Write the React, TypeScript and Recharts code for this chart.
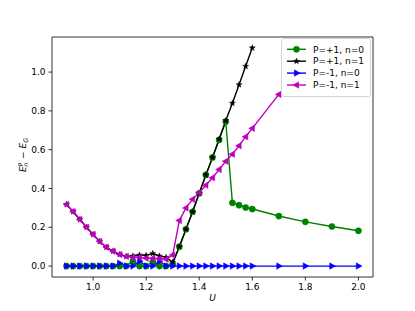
import React from "react";
import { LineChart, Line, XAxis, YAxis, ReferenceArea } from "recharts";

const U_LOW = [0.9, 0.925, 0.95, 0.975, 1.0, 1.025, 1.05, 1.075, 1.1, 1.125, 1.15, 1.175, 1.2, 1.225, 1.25, 1.275, 1.3, 1.325, 1.35, 1.375, 1.4, 1.425, 1.45, 1.475, 1.5, 1.525, 1.55, 1.575, 1.6];
const U_HIGH = [1.7, 1.8, 1.9, 2.0];

const GREEN_VALS = [0, 0, 0, 0, 0, 0, 0, 0, 0, 0, 0.025, 0, 0, 0.022, 0, 0, 0.01, 0.1, 0.19, 0.28, 0.375, 0.47, 0.56, 0.65, 0.745, 0.326, 0.314, 0.302, 0.294, 0.258, 0.228, 0.204, 0.182];
const BLACK_VALS = [0.318, 0.28, 0.24, 0.2, 0.163, 0.127, 0.097, 0.077, 0.06, 0.05, 0.052, 0.057, 0.055, 0.065, 0.052, 0.045, 0.02, 0.1, 0.19, 0.28, 0.375, 0.47, 0.56, 0.655, 0.75, 0.84, 0.935, 1.03, 1.125];
const BLUE_VALS = [0, 0, 0, 0, 0, 0, 0, 0, 0.015, 0, 0, 0.025, 0, 0, 0.025, 0, 0, 0, 0, 0, 0, 0, 0, 0, 0, 0, 0, 0, 0, 0, 0, 0, 0];
const MAGENTA_VALS = [0.318, 0.28, 0.24, 0.2, 0.163, 0.127, 0.097, 0.077, 0.06, 0.05, 0.045, 0.045, 0.04, 0.04, 0.038, 0.035, 0.057, 0.235, 0.3, 0.344, 0.378, 0.417, 0.455, 0.498, 0.54, 0.577, 0.62, 0.667, 0.71, 0.885];

const X_TICKS = [1.0, 1.2, 1.4, 1.6, 1.8, 2.0];
const Y_TICKS = [0.0, 0.2, 0.4, 0.6, 0.8, 1.0];
const SERIES_NAMES = ["P=+1, n=0", "P=+1, n=1", "P=-1, n=0", "P=-1, n=1"];

const ALL_U = [...U_LOW, ...U_HIGH];
const toPts = (xs: number[], ys: number[]) => ys.map((y, i) => ({ x: xs[i], y }));

const greenData = toPts(ALL_U, GREEN_VALS);
const blackData = toPts(U_LOW, BLACK_VALS);
const blueData = toPts(ALL_U, BLUE_VALS);
const magentaData = toPts(ALL_U, MAGENTA_VALS);

const GREEN = "#008000";
const BLACK = "#000000";
const BLUE = "#0000ff";
const MAGENTA = "#bf00bf";

const FONT = "DejaVu Sans, sans-serif";
const X_DOMAIN: [number, number] = [0.845, 2.055];
const Y_DOMAIN: [number, number] = [-0.0563, 1.181];

function starPoints(cx: number, cy: number, R: number, r: number) {
  const pts: string[] = [];
  for (let i = 0; i < 10; i++) {
    const rad = i % 2 === 0 ? R : r;
    const a = -Math.PI / 2 + (i * Math.PI) / 5;
    pts.push(`${cx + rad * Math.cos(a)},${cy + rad * Math.sin(a)}`);
  }
  return pts.join(" ");
}

function Marker({ kind, cx, cy, color }: { kind: string; cx: number; cy: number; color: string }) {
  if (kind === "circle") return <circle cx={cx} cy={cy} r={3.1} fill={color} stroke={color} strokeWidth={0.5} />;
  if (kind === "star") return <polygon points={starPoints(cx, cy, 3.2, 1.3)} fill={color} stroke={color} strokeWidth={0.4} />;
  const r = 3.6;
  if (kind === "right")
    return <polygon points={`${cx + r},${cy} ${cx - r * 0.6},${cy - r * 0.9} ${cx - r * 0.6},${cy + r * 0.9}`} fill={color} stroke={color} strokeWidth={0.5} />;
  return <polygon points={`${cx - r},${cy} ${cx + r * 0.6},${cy - r * 0.9} ${cx + r * 0.6},${cy + r * 0.9}`} fill={color} stroke={color} strokeWidth={0.5} />;
}

const makeDot = (kind: string, color: string, prefix: string) => (p: any) => {
  if (p.cx == null || p.cy == null) return <g key={`${prefix}-${p.index}`} />;
  return (
    <g key={`${prefix}-${p.index}`}>
      <Marker kind={kind} cx={p.cx} cy={p.cy} color={color} />
    </g>
  );
};

const LEGEND_ITEMS = [
  { name: SERIES_NAMES[0], kind: "circle", color: GREEN },
  { name: SERIES_NAMES[1], kind: "star", color: BLACK },
  { name: SERIES_NAMES[2], kind: "right", color: BLUE },
  { name: SERIES_NAMES[3], kind: "left", color: MAGENTA },
];

export default function App() {
  return (
    <div style={{ position: "absolute", left: 0, top: 0, width: 415, height: 311, background: "#fff" }}>
      <LineChart width={415} height={311} margin={{ top: 37, right: 42, bottom: 4, left: 12 }}>
        <XAxis
          type="number"
          dataKey="x"
          domain={X_DOMAIN}
          ticks={X_TICKS}
          allowDataOverflow
          height={30}
          tickFormatter={(v: number) => v.toFixed(1)}
          tick={{ fill: "#000", fontSize: 9, fontFamily: FONT }}
          tickSize={3.5}
          tickMargin={3}
          axisLine={false}
          tickLine={{ stroke: "#000", strokeWidth: 0.8 }}
        />
        <YAxis
          type="number"
          dataKey="y"
          domain={Y_DOMAIN}
          ticks={Y_TICKS}
          allowDataOverflow
          width={40}
          tickFormatter={(v: number) => v.toFixed(1)}
          tick={{ fill: "#000", fontSize: 9, fontFamily: FONT }}
          tickSize={3.5}
          tickMargin={3}
          axisLine={false}
          tickLine={{ stroke: "#000", strokeWidth: 0.8 }}
        />
        <Line data={greenData} dataKey="y" stroke={GREEN} strokeWidth={1.4} isAnimationActive={false} dot={makeDot("circle", GREEN, "g")} activeDot={false} />
        <Line data={blackData} dataKey="y" stroke={BLACK} strokeWidth={1.4} isAnimationActive={false} dot={makeDot("star", BLACK, "k")} activeDot={false} />
        <Line data={blueData} dataKey="y" stroke={BLUE} strokeWidth={1.4} isAnimationActive={false} dot={makeDot("right", BLUE, "b")} activeDot={false} />
        <Line data={magentaData} dataKey="y" stroke={MAGENTA} strokeWidth={1.4} isAnimationActive={false} dot={makeDot("left", MAGENTA, "m")} activeDot={false} />
        <ReferenceArea x1={X_DOMAIN[0]} x2={X_DOMAIN[1]} y1={Y_DOMAIN[0]} y2={Y_DOMAIN[1]} fill="none" stroke="#000" strokeWidth={0.8} ifOverflow="visible" />
      </LineChart>
      <svg width={415} height={311} style={{ position: "absolute", left: 0, top: 0, pointerEvents: "none" }}>
        <text x={212.5} y={301} textAnchor="middle" fontFamily={FONT} fontSize={9} fontStyle="italic" fill="#000">U</text>
        <g transform="translate(26,155) rotate(-90)">
          <text x={0} y={0} textAnchor="middle" fontFamily={FONT} fontSize={9} fill="#000">
            <tspan fontStyle="italic">E</tspan>
            <tspan fontStyle="italic" fontSize={6.3} dy={-3.5}>P</tspan>
            <tspan fontStyle="italic" fontSize={6.3} dx={-4.2} dy={5.5}>n</tspan>
            <tspan dy={-2} dx={1}> − </tspan>
            <tspan fontStyle="italic">E</tspan>
            <tspan fontStyle="italic" fontSize={6.3} dy={2}>G</tspan>
          </text>
        </g>
        <rect x={281.5} y={38.5} width={89} height={58} rx={2} fill="#fff" fillOpacity={0.8} stroke="#cccccc" strokeWidth={0.8} />
        {LEGEND_ITEMS.map((it, i) => {
          const y = 49.3 + i * 11.9;
          return (
            <g key={it.name}>
              <line x1={287} y1={y} x2={306} y2={y} stroke={it.color} strokeWidth={1.4} />
              <Marker kind={it.kind} cx={296.5} cy={y} color={it.color} />
              <text x={313} y={y + 3.2} fontFamily={FONT} fontSize={9} fill="#000">{it.name}</text>
            </g>
          );
        })}
      </svg>
    </div>
  );
}
